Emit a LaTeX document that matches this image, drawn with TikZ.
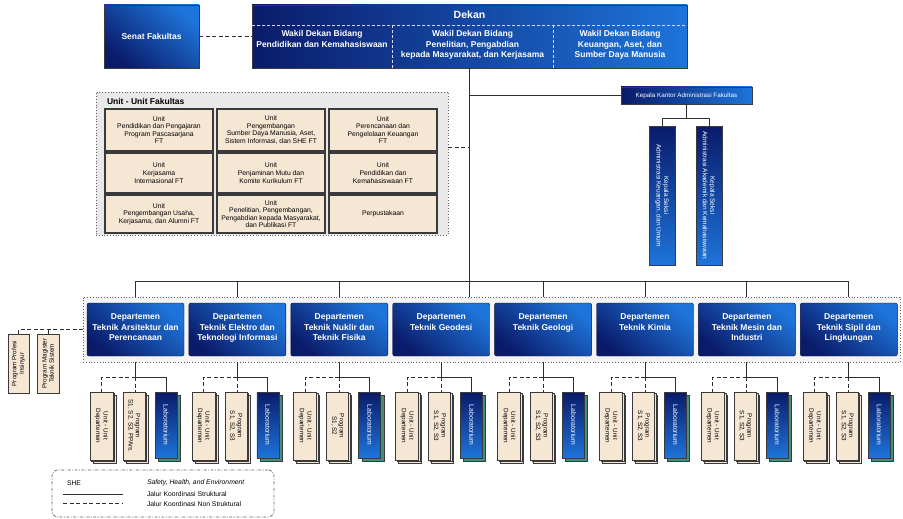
\documentclass[tikz,border=0pt]{standalone}
\usepackage{fontspec}
\setmainfont{Liberation Sans}
\definecolor{navy}{HTML}{0A1B6A}
\definecolor{bblue}{HTML}{1E74DA}
\definecolor{beige}{HTML}{F6E7D5}
\definecolor{lgray}{HTML}{E9E9E9}
\definecolor{bord}{HTML}{3A3A3A}
\definecolor{linec}{HTML}{2E2E2E}
\definecolor{labsh}{HTML}{3F8F7C}
\begin{document}
\begin{tikzpicture}[x=1pt,y=-1pt,
  every node/.style={inner sep=0pt, outer sep=0pt},
  conn/.style={draw=linec, line width=1pt},
  dconn/.style={conn, dash pattern=on 4pt off 2.5pt},
  hdr/.style={text=white, align=center, font=\bfseries\fontsize{8.5}{10.5}\selectfont},
  senatbox/.style={draw=bord, line width=0.8pt, top color=bblue, bottom color=navy, shading angle=-40, text=white, font=\bfseries\fontsize{8.5}{10.5}\selectfont},
  dekanbox/.style={draw=bord, line width=0.8pt, left color=navy, right color=bblue},
  sepline/.style={draw=white!85!blue, line width=0.7pt, dash pattern=on 3pt off 2pt},
  kkbox/.style={draw=bord, line width=0.6pt, left color=navy, right color=bblue, text=white, font=\fontsize{6.3}{7.5}\selectfont},
  ksbox/.style={draw=bord, line width=0.6pt, top color=navy, bottom color=bblue},
  cont/.style={draw=bord!80, line width=0.8pt, dotted, fill=lgray},
  unitbox/.style={draw=bord, line width=1.1pt, fill=beige, align=center, font=\fontsize{6.8}{7.6}\selectfont},
  deptbox/.style={draw=navy!60!black, line width=0.4pt, rounded corners=2pt, top color=bblue, bottom color=navy, shading angle=-40},
  stackbox/.style={draw=bord, line width=0.7pt, fill=beige},
  labbox/.style={draw=bord, line width=0.7pt, top color=navy, bottom color=bblue},
  rtext/.style={rotate=-90, align=center, font=\fontsize{6.3}{7.4}\selectfont},
  rtextup/.style={rotate=90, align=center, font=\fontsize{6.3}{7.4}\selectfont},
  legtext/.style={anchor=west, font=\fontsize{6.8}{8}\selectfont},
]
\useasboundingbox (0,0) rectangle (903,519);

% ---------- top row ----------
\node[senatbox, minimum width=95, minimum height=63] (senat) at (151.5,36.5) {Senat Fakultas};
\node[dekanbox, minimum width=435, minimum height=63] (dekan) at (469.5,36.5) {};
\node[hdr, font=\bfseries\fontsize{10.5}{12}\selectfont] (dekant) at (469.5,15) {Dekan};
\coordinate (s0) at (252,25);
\draw[sepline] (dekan.west |- s0) -- (dekan.east |- s0);
\draw[sepline] (392,25) -- (392,68);
\draw[sepline] (553,25) -- (553,68);
\node[hdr, anchor=north] (wd1) at (322,30.5) {Wakil Dekan Bidang\\Pendidikan dan Kemahasiswaan};
\node[hdr, anchor=north] (wd2) at (472.5,30.5) {Wakil Dekan Bidang\\Penelitian, Pengabdian\\kepada Masyarakat, dan Kerjasama};
\node[hdr, anchor=north] (wd3) at (620,30.5) {Wakil Dekan Bidang\\Keuangan, Aset, dan\\Sumber Daya Manusia};
\draw[dconn] (senat) -- (dekan);

% ---------- administration ----------
\node[kkbox, minimum width=131, minimum height=17] (kk) at (686.5,95.5) {Kepala Kantor Administrasi Fakultas};
\draw[conn] (kk.west -| dekan.south) -- (kk.west);
\node[ksbox, minimum width=26, minimum height=139] (ks1) at (662,195.5) {};
\node[rtext, text=white, font=\fontsize{6.5}{7.6}\selectfont] (ks1t) at (ks1) {Kepala Seksi\\Administrasi Keuangan, dan Umum};
\node[ksbox, minimum width=26, minimum height=139] (ks2) at (709,195.5) {};
\node[rtext, text=white, font=\fontsize{6.5}{7.6}\selectfont] (ks2t) at (ks2) {Kepala Seksi\\Administrasi Akademik dan Kemahasiswaan};
\coordinate (kj) at ([yshift=-14pt]kk.south);
\draw[conn] (kk.south) -- (kj);
\draw[conn] (kj) -| (ks1.north);
\draw[conn] (kj) -| (ks2.north);

% ---------- unit fakultas ----------
\node[cont, minimum width=352, minimum height=143] (uc) at (272,163.5) {};
\node[anchor=west, font=\bfseries\fontsize{8.5}{10}\selectfont] (uct) at (107,101.5) {Unit - Unit Fakultas};
\node[unitbox, minimum width=108, minimum height=42] (u11) at (159,130) {Unit\\Pendidikan dan Pengajaran\\Program Pascasarjana\\FT};
\node[unitbox, minimum width=108, minimum height=42] (u12) at (271,130) {Unit\\Pengembangan\\Sumber Daya Manusia, Aset,\\Sistem Informasi, dan SHE FT};
\node[unitbox, minimum width=108, minimum height=42] (u13) at (383,130) {Unit\\Perencanaan dan\\Pengelolaan Keuangan\\FT};
\node[unitbox, minimum width=108, minimum height=40] (u21) at (159,173) {Unit\\Kerjasama\\Internasional FT};
\node[unitbox, minimum width=108, minimum height=40] (u22) at (271,173) {Unit\\Penjaminan Mutu dan\\Komite Kurikulum FT};
\node[unitbox, minimum width=108, minimum height=40] (u23) at (383,173) {Unit\\Pendidikan dan\\Kemahasiswaan FT};
\node[unitbox, minimum width=108, minimum height=38] (u31) at (159,214) {Unit\\Pengembangan Usaha,\\Kerjasama, dan Alumni FT};
\node[unitbox, minimum width=108, minimum height=38] (u32) at (271,214) {Unit\\Penelitian, Pengembangan,\\Pengabdian kepada Masyarakat,\\dan Publikasi FT};
\node[unitbox, minimum width=108, minimum height=38] (u33) at (383,214) {Perpustakaan};
\draw[dconn] ([yshift=16pt]uc.east) -- ([yshift=16pt]uc.east -| dekan.south);

% ---------- departments ----------
\node[cont, fill=lgray!50, minimum width=817, minimum height=65] (dc) at (491.5,329.5) {};
\foreach \i/\dt/\pt in {
 1/{Departemen\\Teknik Arsitektur dan\\Perencanaan}/{S1, S2, S3, PPArs.},
 2/{Departemen\\Teknik Elektro dan\\Teknologi Informasi}/{S1, S2, S3},
 3/{Departemen\\Teknik Nuklir dan\\Teknik Fisika}/{S1, S2},
 4/{Departemen\\Teknik Geodesi}/{S1, S2, S3},
 5/{Departemen\\Teknik Geologi}/{S1, S2, S3},
 6/{Departemen\\Teknik Kimia}/{S1, S2, S3},
 7/{Departemen\\Teknik Mesin dan\\Industri}/{S1, S2, S3},
 8/{Departemen\\Teknik Sipil dan\\Lingkungan}/{S1, S2, S3}}
{
 \pgfmathsetmacro{\cx}{135.5+101.9*(\i-1)}
 \node[deptbox, minimum width=97, minimum height=53] (d\i) at (\cx,329.5) {};
 \node[hdr, anchor=north] (dt\i) at (\cx,314) {\dt};
 % unit departemen stack
 \draw[stackbox] (\cx-45.5+3,395) rectangle ++(23,68);
 \draw[stackbox] (\cx-45.5+1.5,393.5) rectangle ++(23,68);
 \node[stackbox, minimum width=23, minimum height=68] (ud\i) at (\cx-34,426) {};
 \node[rtext] (udt\i) at (ud\i) {Unit - Unit\\Departemen};
 % program stack
 \draw[stackbox] (\cx-12.5+3,395) rectangle ++(22,68);
 \draw[stackbox] (\cx-12.5+1.5,393.5) rectangle ++(22,68);
 \node[stackbox, minimum width=22, minimum height=68] (pg\i) at (\cx-1.5,426) {};
 \node[rtext] (pgt\i) at (pg\i) {Program\\\pt};
 % laboratorium
 \draw[draw=bord, line width=0.5pt, fill=labsh] (\cx+19.5+3,395) rectangle ++(22,66);
 \node[labbox, minimum width=22, minimum height=66] (lb\i) at (\cx+30.5,425) {};
 \node[rtext, text=white, font=\fontsize{6.8}{8}\selectfont] (lbt\i) at (lb\i) {Laboratorium};
 % connectors
 \coordinate (j\i) at (\cx,377);
 \draw[conn] (d\i.south |- dc.south) -- (j\i);
 \draw[dconn] (j\i) -| (ud\i.north);
 \draw[dconn] (j\i) -- (j\i |- pg\i.north);
 \draw[conn] (j\i) -| (lb\i.north);
}
\coordinate (busy) at (0,281);
\draw[conn] (d1.north |- busy) -- (d8.north |- busy);
\foreach \i in {1,2,3,5,6,7,8} \draw[conn] (d\i.north |- busy) -- (d\i.north |- dc.north);
\draw[conn] (dekan.south) -- (dekan.south |- dc.north);

% ---------- left programs ----------
\node[stackbox, minimum width=21, minimum height=59] (ppi) at (18.5,363.5) {};
\node[rtextup] (ppit) at (ppi) {Program Profesi\\Insinyur};
\node[stackbox, minimum width=22, minimum height=59] (pmt) at (48,363.5) {};
\node[rtextup] (pmtt) at (pmt) {Program Magister\\Teknik Sistem};
\draw[dconn] (dc.west) -| (ppi.north);
\draw[dconn] (pmt.north) -- (pmt.north |- dc.west);

% ---------- legend ----------
\node[draw=bord!80, line width=0.7pt, dash pattern=on 3pt off 1.5pt on 0.8pt off 1.5pt, rounded corners=6pt, minimum width=222, minimum height=47] (leg) at (163,493.5) {};
\node[legtext] (lg1) at (67,483) {SHE};
\node[legtext, font=\itshape\fontsize{6.8}{8}\selectfont] (lg2) at (147,483) {Safety, Health, and Environment};
\coordinate (lgA) at (63,494);
\coordinate (lgB) at (123,494);
\draw[conn] (lgA) -- (lgB);
\node[legtext] (lg3) at (147,494) {Jalur Koordinasi Struktural};
\coordinate (lgC) at (63,503);
\coordinate (lgD) at (123,503);
\draw[dconn] (lgC) -- (lgD);
\node[legtext] (lg4) at (147,504) {Jalur Koordinasi Non Struktural};
\end{tikzpicture}
\end{document}
